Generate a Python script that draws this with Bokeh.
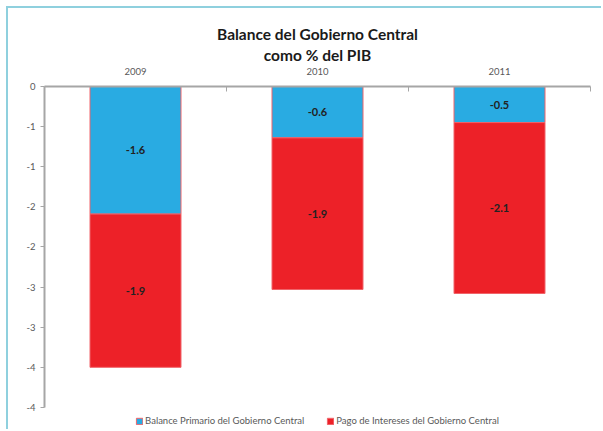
from bokeh.plotting import figure
from bokeh.models import FixedTicker, Range1d, Legend, LegendItem, ColumnDataSource, Title
from bokeh.core.properties import value
from bokeh.embed import file_html
from bokeh.resources import INLINE

years = ["2009", "2010", "2011"]
balance_primario = [-1.59, -0.64, -0.45]
pago_intereses = [-1.91, -1.89, -2.13]
y_ticks = [0.0, -0.5, -1.0, -1.5, -2.0, -2.5, -3.0, -3.5, -4.0]
y_tick_labels = ["0", "-1", "-1", "-2", "-2", "-3", "-3", "-4", "-4"]
title_lines = ["Balance del Gobierno Central", "como % del PIB"]

BLUE = "#29abe2"
RED = "#ed2128"
EDGE = "#f0646a"
GREY_TXT = "#595959"
AXIS = "#a6a6a6"
FONT = "Lato"

xs = [i + 0.5 for i in range(len(years))]
bottom_red = [a + b for a, b in zip(balance_primario, pago_intereses)]
src = ColumnDataSource(dict(
    x=xs,
    zero=[0.0] * len(xs),
    bp=balance_primario,
    total=bottom_red,
    bp_mid=[b / 2 for b in balance_primario],
    pi_mid=[a + b / 2 for a, b in zip(balance_primario, pago_intereses)],
    bp_lab=[f"{v:.1f}" for v in balance_primario],
    pi_lab=[f"{v:.1f}" for v in pago_intereses],
))

p = figure(width=595, height=423, x_range=Range1d(0, len(years)), y_range=Range1d(-4.30, 0),
           output_backend="svg", toolbar_location=None, x_axis_location="above",
           min_border_left=36, min_border_right=13, min_border_top=78, min_border_bottom=0)
p.styles = {"margin-left": "6px", "margin-top": "6px",
            "border-left": "2px solid #8fd0de", "border-top": "2px solid #8fd0de"}

r1 = p.vbar(x="x", top="zero", bottom="bp", width=0.5, source=src,
            fill_color=BLUE, line_color=EDGE, line_width=1)
r2 = p.vbar(x="x", top="bp", bottom="total", width=0.5, source=src,
            fill_color=RED, line_color=EDGE, line_width=1)

for ycol, tcol in (("bp_mid", "bp_lab"), ("pi_mid", "pi_lab")):
    p.text(x="x", y=ycol, text=tcol, source=src, text_align="center", text_baseline="middle",
           text_font=value(FONT), text_font_style="bold", text_font_size="11px", text_color="#222222")

p.xgrid.visible = False
p.ygrid.visible = False
p.outline_line_color = None

xa = p.xaxis[0]
xa.ticker = FixedTicker(ticks=xs, minor_ticks=[float(i) for i in range(len(years) + 1)])
xa.major_label_overrides = {x: y for x, y in zip(xs, years)}
xa.major_tick_line_color = None
xa.minor_tick_in = 5
xa.minor_tick_out = 0
xa.minor_tick_line_color = AXIS
xa.axis_line_color = AXIS
xa.axis_line_width = 2
xa.major_label_text_font = FONT
xa.major_label_text_font_size = "9.5px"
xa.major_label_text_color = GREY_TXT
xa.major_label_standoff = 6

ya = p.yaxis[0]
ya.ticker = FixedTicker(ticks=y_ticks)
ya.bounds = (min(y_ticks), max(y_ticks))
ya.major_label_overrides = {t: l for t, l in zip(y_ticks, y_tick_labels)}
ya.major_tick_out = 4
ya.major_tick_in = 0
ya.minor_tick_line_color = None
ya.major_tick_line_color = AXIS
ya.axis_line_color = AXIS
ya.axis_line_width = 2
ya.major_label_text_font = FONT
ya.major_label_text_font_size = "9.5px"
ya.major_label_text_color = GREY_TXT
ya.major_label_standoff = 5

for i, line in enumerate(reversed(title_lines)):
    t = Title(text=line, align="center", text_font=FONT, text_font_size="15.5px",
              text_font_style="bold", text_color="#1a1a1a", standoff=0 if i else 2)
    p.add_layout(t, "above")

legend = Legend(items=[LegendItem(label="Balance Primario del Gobierno Central", renderers=[r1]),
                       LegendItem(label="Pago de Intereses del Gobierno Central", renderers=[r2])],
                orientation="horizontal", location="bottom_center")
legend.label_text_font = FONT
legend.label_text_font_size = "9.5px"
legend.label_text_color = GREY_TXT
legend.glyph_width = 8
legend.glyph_height = 8
legend.label_standoff = 2
legend.spacing = 22
legend.padding = 0
legend.margin = 5
legend.border_line_color = None
legend.background_fill_alpha = 0
p.add_layout(legend)

open("out.html", "w").write(file_html(p, INLINE))
